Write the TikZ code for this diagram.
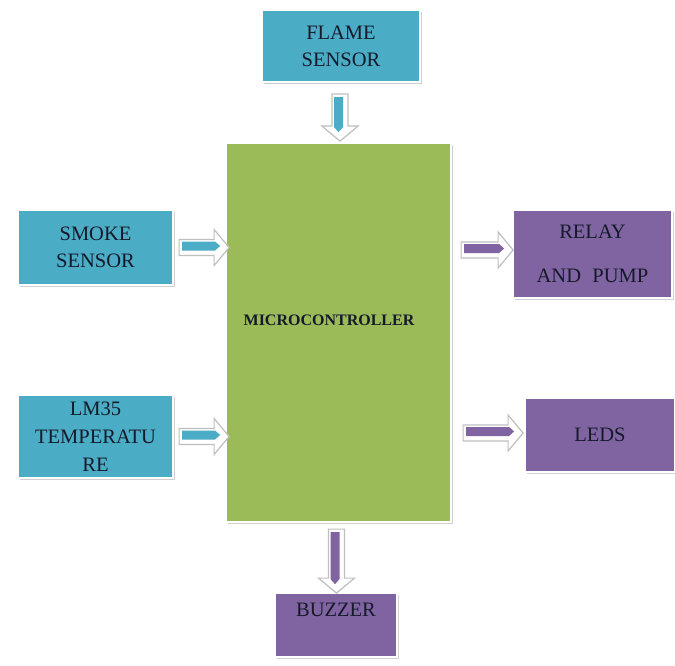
\documentclass[tikz,border=0pt]{standalone}
\usepackage{fontspec}
\setmainfont{Liberation Serif}
\usetikzlibrary{calc,shadows}
\definecolor{cblue}{HTML}{4BACC6}
\definecolor{cpurple}{HTML}{8064A2}
\definecolor{cgreen}{HTML}{9BBB59}
\definecolor{ctext}{HTML}{151A2A}
\begin{document}
\begin{tikzpicture}[x=1pt,y=-1pt,
  blk/.style={draw=white, line width=2.2pt, fill=#1, text=ctext,
    align=center, inner sep=0pt,
    drop shadow={shadow xshift=2pt, shadow yshift=-2pt, fill=black!30, opacity=0.6},
    font=\fontsize{20.5}{28}\selectfont},
  pics/barrow/.style 2 args={code={
    \draw[black!25, fill=white, line width=1.2pt, line join=miter]
      (0,-8) -- ({#2-15},-8) -- ({#2-15},-18) -- (#2,0) -- ({#2-15},18)
      -- ({#2-15},8) -- (0,8) -- cycle;
    \fill[#1] (3,-6) -- ({#2-14},-6) -- ({#2-9},-1.5) -- ({#2-14},3) -- (3,3) -- cycle;
  }}]
\useasboundingbox (0,0) rectangle (675,666);
\fill[white] (0,0) rectangle (675,666);

\node[blk=cgreen, minimum width=225pt, minimum height=379pt] (mc) at (338.5,332.5) {};
\node[font=\fontsize{16}{18}\bfseries, text=ctext] (mclabel) at (329,320) {MICROCONTROLLER};

\node[blk=cblue, minimum width=158pt, minimum height=72pt] (flame) at (341,46) {FLAME\\[-1pt]SENSOR};
\node[blk=cblue, minimum width=155pt, minimum height=75pt] (smoke) at (95.5,247.5) {SMOKE\\[-1pt]SENSOR};
\node[blk=cblue, minimum width=155pt, minimum height=83pt] (lm35) at (95.5,436.5) {LM35\\TEMPERATU\\RE};
\node[blk=cpurple, minimum width=159pt, minimum height=88pt] (relay) at (592.5,254) {RELAY\\[16pt]AND\;\;PUMP};
\node[blk=cpurple, minimum width=150pt, minimum height=74pt] (leds) at (600,435) {LEDS};
\node[blk=cpurple, minimum width=122pt, minimum height=64pt, text depth=30pt] (buzzer) at (336,625) {BUZZER};

\pic[rotate=-90,yscale=-1] at ($(flame.south)+(-1,11)$) {barrow={cblue}{47}};
\pic at ($(smoke.east)+(5,0)$) {barrow={cblue}{50}};
\pic at ($(lm35.east)+(5,0)$) {barrow={cblue}{50}};
\pic at ($(mc.east |- relay.west)+(9,-4)$) {barrow={cpurple}{52}};
\pic at ($(mc.east |- leds.west)+(11,-2)$) {barrow={cpurple}{60}};
\pic[rotate=-90,yscale=-1] at ($(mc.south)+(-2,6)$) {barrow={cpurple}{64}};
\end{tikzpicture}
\end{document}
